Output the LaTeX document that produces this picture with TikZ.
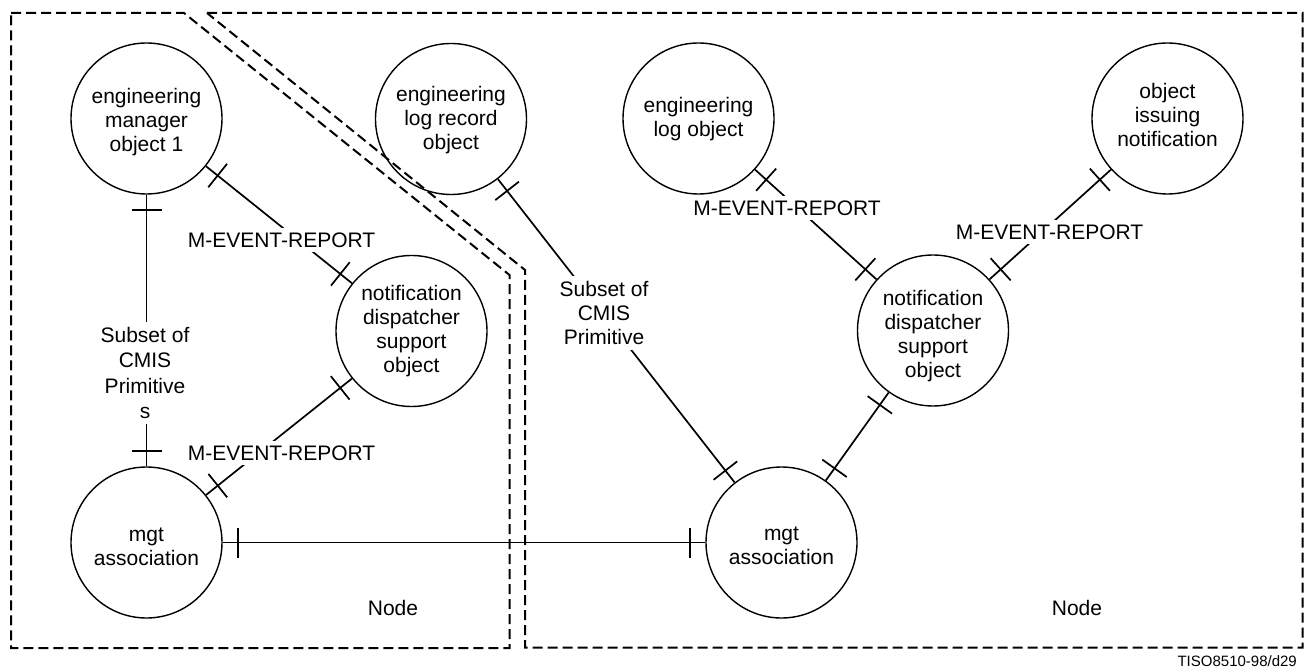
\documentclass[tikz,border=0pt]{standalone}
\usepackage{fontspec}
\setmainfont{Liberation Sans}
\usetikzlibrary{decorations.markings}
\begin{document}
\begin{tikzpicture}[x=1pt,y=-1pt,
  obj/.style={circle, draw, line width=1.4pt, minimum size=151pt, inner sep=0pt},
  txt/.style={align=center, font=\fontsize{21pt}{24pt}\selectfont, inner sep=0pt},
  ticktip/.style={line width=1.7pt},
  conn/.style={line width=1.7pt, postaction={decorate}, decoration={markings,
     mark=at position 15pt with {\draw[ticktip] (0pt,-15pt) -- (0pt,15pt);},
     mark=at position -15pt with {\draw[ticktip] (0pt,-15pt) -- (0pt,15pt);}}},
  lbl/.style={align=center, font=\fontsize{21pt}{24pt}\selectfont, fill=white, inner sep=5pt},
  plain/.style={font=\fontsize{21pt}{24pt}\selectfont, inner sep=0pt},
  frame/.style={line width=2pt, dash pattern=on 10pt off 5pt}
]
\useasboundingbox (0,0) rectangle (1307,668);

% dashed node boundaries
\draw[frame] (11,13) -- (184,13) -- (509.5,275) -- (509.5,648) -- (11,648) -- cycle;
\draw[frame] (207,13) -- (1302.5,13) -- (1302.5,647.5) -- (525,647.5) -- (525,270) -- cycle;

% objects
\node[obj, label={[txt, yshift=-4pt]center:{engineering\\manager\\object 1}}] (emo1) at (146.5,118.5) {};
\node[obj, label={[txt, yshift=-1pt]center:{engineering\\log record\\object}}] (elr) at (451,119) {};
\node[obj, label={[txt, yshift=-1pt]center:{engineering\\log object}}] (elo) at (698.5,118.5) {};
\node[obj, label={[txt, yshift=4pt]center:{object\\issuing\\notification}}] (oin) at (1167.5,118.5) {};
\node[obj, label={[txt]center:{notification\\dispatcher\\support\\object}}] (ndL) at (411.5,331) {};
\node[obj, label={[txt, yshift=-6pt]center:{notification\\dispatcher\\support\\object}}] (ndR) at (933,330.5) {};
\node[obj, label={[txt, yshift=-4pt]center:{mgt\\association}}] (mgtL) at (146.5,542.5) {};
\node[obj, label={[txt, yshift=-3pt]center:{mgt\\association}}] (mgtR) at (781.5,542.5) {};

% connectors
\draw[conn] (emo1) -- (mgtL);
\draw[conn] (emo1) -- (ndL);
\draw[conn] (mgtL) -- (ndL);
\draw[conn] (mgtL) -- (mgtR);
\draw[conn] (elr) -- (mgtR);
\draw[conn] (elo) -- (ndR);
\draw[conn] (oin) -- (ndR);
\draw[conn] (mgtR) -- (ndR);

% connector labels
\node[lbl, font=\fontsize{21pt}{25.5pt}\selectfont] (sub1) at (145,373) {Subset of\\CMIS\\Primitive\\s};
\node[lbl] (ev1) at (281.5,240) {M-EVENT-REPORT};
\node[lbl] (ev2) at (281.5,453) {M-EVENT-REPORT};
\node[lbl] (sub2) at (604,313) {Subset of\\CMIS\\Primitive};
\node[lbl] (ev3) at (787,208) {M-EVENT-REPORT};
\node[lbl] (ev4) at (1049.5,232) {M-EVENT-REPORT};

% node labels
\node[plain] (nodeL) at (393,608) {Node};
\node[plain] (nodeR) at (1077,608) {Node};
\node[anchor=base east, font=\fontsize{15pt}{18pt}\selectfont, inner sep=0pt] (tiso) at (1297,666) {TISO8510-98/d29};
\end{tikzpicture}
\end{document}
